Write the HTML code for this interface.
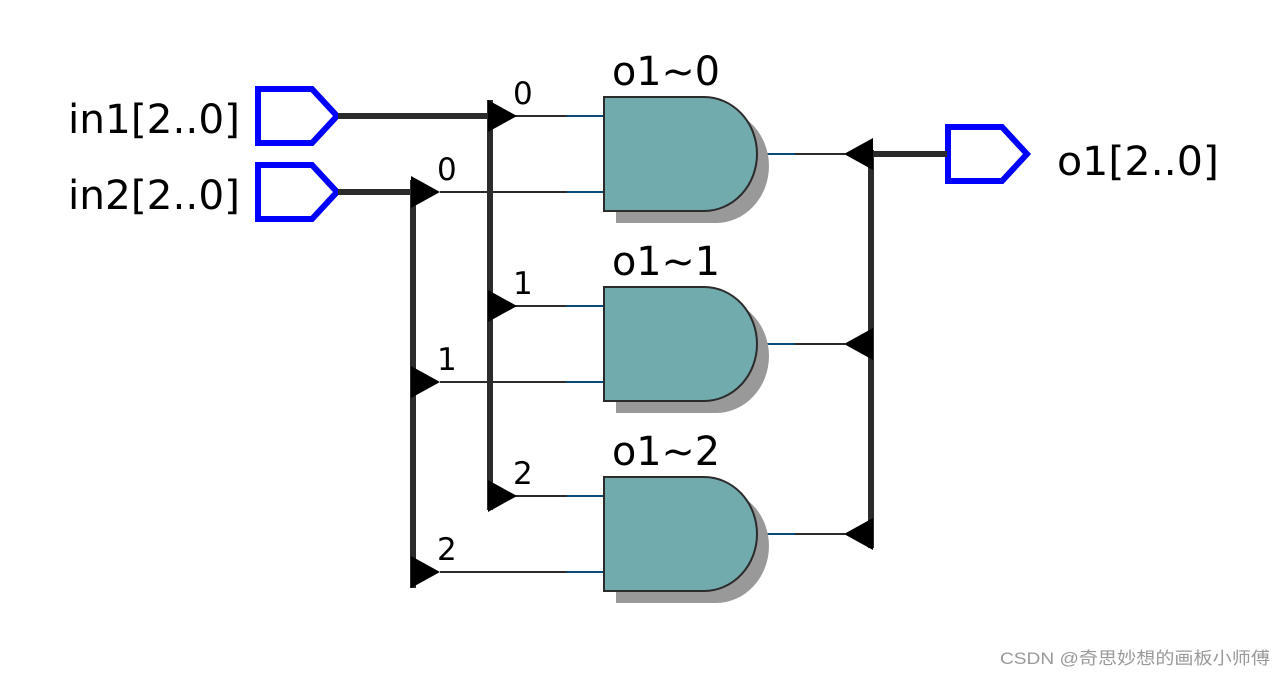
<!DOCTYPE html>
<html><head><style>body{margin:0;background:#fff}svg{display:block}</style></head>
<body>
<svg width="1287" height="677" xmlns="http://www.w3.org/2000/svg" font-family="DejaVu Sans, Liberation Sans, sans-serif">
<defs>
<g id="gate">
<path d="M16 12 H116 A53 57 0 0 1 116 126 H16 Z" fill="#999"/>
<path d="M4 0 H104 A53 57 0 0 1 104 114 H4 Z" fill="#72abad" stroke="#2b2b2b" stroke-width="2"/>
</g>
<polygon id="tr" points="0,-16 29,0 0,16" fill="#000"/>
<polygon id="tl" points="29,-16 0,0 29,16" fill="#000"/>
</defs>
<g fill="none" stroke="#0000ff" stroke-width="6">
<path d="M258 89 H312 L337 116 L312 143 H258 Z"/>
<path d="M258 165 H312 L337 192 L312 219 H258 Z"/>
<path d="M948 127 H1002 L1027 154 L1002 181 H948 Z"/>
</g>
<g font-size="40" fill="#000">
<text x="68" y="133" textLength="172" lengthAdjust="spacingAndGlyphs">in1[2..0]</text>
<text x="68" y="209" textLength="172" lengthAdjust="spacingAndGlyphs">in2[2..0]</text>
<text x="1057" y="175" textLength="162" lengthAdjust="spacingAndGlyphs">o1[2..0]</text>
<text x="612" y="85" textLength="108" lengthAdjust="spacingAndGlyphs">o1~0</text>
<text x="612" y="275" textLength="108" lengthAdjust="spacingAndGlyphs">o1~1</text>
<text x="612" y="465" textLength="108" lengthAdjust="spacingAndGlyphs">o1~2</text>
</g>
<g font-size="31" fill="#000">
<text x="513" y="104">0</text><text x="437" y="180">0</text>
<text x="513" y="294">1</text><text x="437" y="370">1</text>
<text x="513" y="484">2</text><text x="437" y="560">2</text>
</g>
<g stroke="#2b2b2b" stroke-width="2">
<line x1="515" y1="116" x2="604" y2="116"/><line x1="440" y1="192" x2="604" y2="192"/>
<line x1="515" y1="306" x2="604" y2="306"/><line x1="440" y1="382" x2="604" y2="382"/>
<line x1="515" y1="496" x2="604" y2="496"/><line x1="440" y1="572" x2="604" y2="572"/>
<line x1="756" y1="154" x2="845" y2="154"/><line x1="756" y1="344" x2="845" y2="344"/><line x1="756" y1="534" x2="845" y2="534"/>
</g>
<g stroke="#0a4a78" stroke-width="2">
<line x1="566" y1="116" x2="604" y2="116"/><line x1="566" y1="192" x2="604" y2="192"/>
<line x1="566" y1="306" x2="604" y2="306"/><line x1="566" y1="382" x2="604" y2="382"/>
<line x1="566" y1="496" x2="604" y2="496"/><line x1="566" y1="572" x2="604" y2="572"/>
<line x1="756" y1="154" x2="795" y2="154"/><line x1="756" y1="344" x2="795" y2="344"/><line x1="756" y1="534" x2="795" y2="534"/>
</g>
<g stroke="#2b2b2b" stroke-width="6" fill="none">
<path d="M338 116 H490 M490 100 V510"/>
<path d="M338 192 H413 M413 180 V588"/>
<path d="M947 154 H871 M871 150 V548"/>
</g>
<use href="#tr" x="488" y="116"/><use href="#tr" x="488" y="306"/><use href="#tr" x="488" y="496"/>
<use href="#tr" x="411" y="192"/><use href="#tr" x="411" y="382"/><use href="#tr" x="411" y="572"/>
<use href="#tl" x="844" y="154"/><use href="#tl" x="844" y="344"/><use href="#tl" x="844" y="534"/>
<use href="#gate" x="600" y="97"/><use href="#gate" x="600" y="287"/><use href="#gate" x="600" y="477"/>
<text x="1000" y="664" font-size="17" fill="#999" textLength="270" lengthAdjust="spacingAndGlyphs" font-family="Liberation Sans, Noto Sans CJK SC, sans-serif">CSDN @奇思妙想的画板小师傅</text>
</svg>
</body></html>
